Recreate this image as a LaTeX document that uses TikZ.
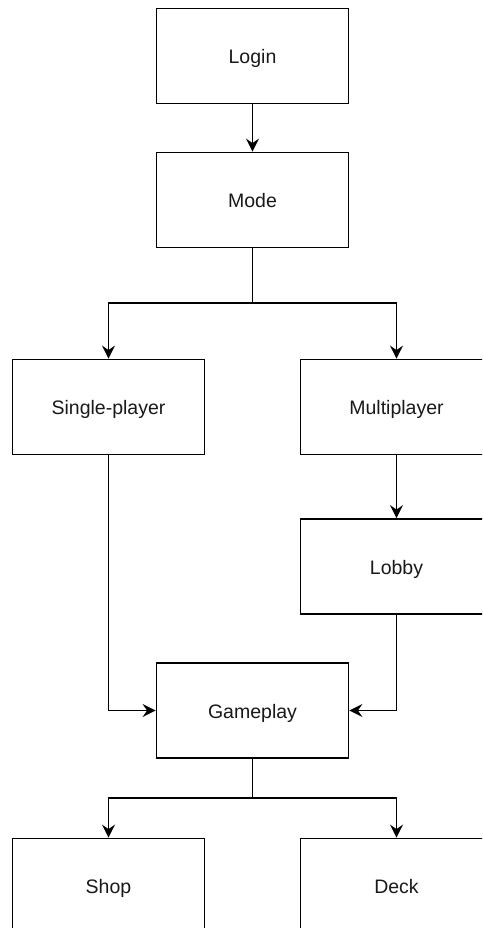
\documentclass[tikz,border=0pt]{standalone}
\usepackage{fontspec}
\setmainfont{Liberation Sans}
\usetikzlibrary{arrows.meta}
\begin{document}
\begin{tikzpicture}[x=1pt,y=-1pt,
  box/.style={draw=black,line width=1.8pt,minimum width=192pt,minimum height=95pt,inner sep=0pt,text height=18pt,text depth=3pt,font=\fontsize{19.5}{22}\selectfont,text=black!90,fill=white},
  conn/.style={draw=black,line width=1.8pt,-{Stealth[length=13pt,width=13pt,inset=4.5pt]}}]
\clip (0,0) rectangle (482,928);
\fill[white] (0,0) rectangle (482,928);
\node[box] (login) at (252.5,56) {Login};
\node[box] (mode) at (252.5,200) {Mode};
\node[box] (single) at (108.5,407) {Single-player};
\node[box] (multi) at (396.5,407) {Multiplayer};
\node[box] (lobby) at (396.5,566.5) {Lobby};
\node[box] (game) at (252.5,710.5) {Gameplay};
\node[box] (shop) at (108.5,886) {Shop};
\node[box] (deck) at (396.5,886) {Deck};
\coordinate (b1) at (252.5,303);
\coordinate (b2) at (252.5,798);
\draw[conn] (login.south) -- (mode.north);
\draw[conn] (mode.south) -- (b1) -| (single.north);
\draw[conn] (b1) -| (multi.north);
\draw[conn] (multi.south) -- (lobby.north);
\draw[conn] (single.south) |- (game.west);
\draw[conn] (lobby.south) |- (game.east);
\draw[conn] (game.south) -- (b2) -| (shop.north);
\draw[conn] (b2) -| (deck.north);
\end{tikzpicture}
\end{document}
